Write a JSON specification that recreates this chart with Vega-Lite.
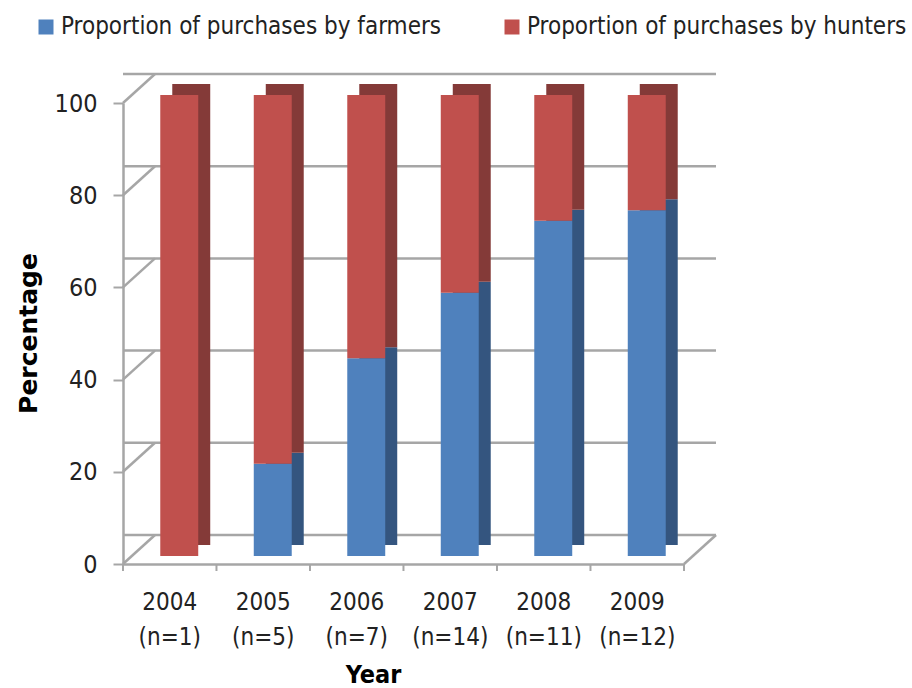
{
  "$schema": "https://vega.github.io/schema/vega-lite/v6.json",
  "width": 561,
  "height": 461,
  "autosize": {"type": "none"},
  "padding": {"left": 123, "top": 103, "right": 228, "bottom": 124},
  "background": "white",
  "config": {
    "view": {"stroke": null},
    "font": "DejaVu Sans Condensed, DejaVu Sans, sans-serif"
  },
  "datasets": {
    "bars": [
      {"year": "2004 (n=1)", "group": "Proportion of purchases by farmers", "value": 0},
      {"year": "2004 (n=1)", "group": "Proportion of purchases by hunters", "value": 100},
      {"year": "2005 (n=5)", "group": "Proportion of purchases by farmers", "value": 20},
      {"year": "2005 (n=5)", "group": "Proportion of purchases by hunters", "value": 80},
      {"year": "2006 (n=7)", "group": "Proportion of purchases by farmers", "value": 42.9},
      {"year": "2006 (n=7)", "group": "Proportion of purchases by hunters", "value": 57.1},
      {"year": "2007 (n=14)", "group": "Proportion of purchases by farmers", "value": 57.1},
      {"year": "2007 (n=14)", "group": "Proportion of purchases by hunters", "value": 42.9},
      {"year": "2008 (n=11)", "group": "Proportion of purchases by farmers", "value": 72.7},
      {"year": "2008 (n=11)", "group": "Proportion of purchases by hunters", "value": 27.3},
      {"year": "2009 (n=12)", "group": "Proportion of purchases by farmers", "value": 75},
      {"year": "2009 (n=12)", "group": "Proportion of purchases by hunters", "value": 25}
    ],
    "years": [
      {"year": "2004 (n=1)"}, {"year": "2005 (n=5)"}, {"year": "2006 (n=7)"},
      {"year": "2007 (n=14)"}, {"year": "2008 (n=11)"}, {"year": "2009 (n=12)"}
    ],
    "grid": [
      {"value": 0}, {"value": 20}, {"value": 40}, {"value": 60}, {"value": 80}, {"value": 100}
    ],
    "floor": [{"value": 0}]
  },
  "layer": [
    {
      "data": {"name": "grid"},
      "mark": {"type": "rule", "xOffset": 32, "yOffset": -29, "stroke": "#A6A6A6", "strokeWidth": 2.5},
      "encoding": {
        "y": {"field": "value", "type": "quantitative", "scale": {"domain": [0, 100], "nice": false, "zero": true}, "title": "Percentage"}
      }
    },
    {
      "data": {"name": "grid"},
      "mark": {"type": "rule", "xOffset": -27.8, "x2Offset": 4.2, "y2Offset": -29, "stroke": "#A6A6A6", "strokeWidth": 2.5},
      "encoding": {
        "x": {"datum": "2004 (n=1)", "bandPosition": 0, "type": "nominal"},
        "x2": {"datum": "2004 (n=1)", "bandPosition": 0},
        "y": {"field": "value", "type": "quantitative", "title": "Percentage"},
        "y2": {"field": "value"}
      }
    },
    {
      "data": {"name": "floor"},
      "mark": {"type": "rule", "xOffset": 27.8, "x2Offset": 59.8, "y2Offset": -29, "stroke": "#A6A6A6", "strokeWidth": 2.5},
      "encoding": {
        "x": {"datum": "2009 (n=12)", "bandPosition": 1, "type": "nominal"},
        "x2": {"datum": "2009 (n=12)", "bandPosition": 1},
        "y": {"field": "value", "type": "quantitative", "title": "Percentage"},
        "y2": {"field": "value"}
      }
    },
    {
      "data": {"name": "years"},
      "mark": {"type": "rule", "xOffset": -27.8, "x2Offset": -27.8, "y2Offset": 7, "stroke": "#A6A6A6", "strokeWidth": 2},
      "encoding": {
        "x": {"field": "year", "type": "nominal", "bandPosition": 0},
        "x2": {"field": "year", "bandPosition": 0},
        "y": {"datum": 0, "type": "quantitative"},
        "y2": {"datum": 0}
      }
    },
    {
      "data": {"name": "floor"},
      "mark": {"type": "rule", "xOffset": 27.8, "x2Offset": 27.8, "y2Offset": 7, "stroke": "#A6A6A6", "strokeWidth": 2},
      "encoding": {
        "x": {"datum": "2009 (n=12)", "bandPosition": 1, "type": "nominal"},
        "x2": {"datum": "2009 (n=12)", "bandPosition": 1},
        "y": {"field": "value", "type": "quantitative", "title": "Percentage"},
        "y2": {"field": "value"}
      }
    },
    {
      "data": {"name": "bars"},
      "mark": {"type": "bar", "xOffset": 21.5, "yOffset": -19},
      "encoding": {
        "x": {
          "field": "year", "type": "nominal", "sort": null, "title": "Year",
          "scale": {
            "domain": ["2004 (n=1)", "2005 (n=5)", "2006 (n=7)", "2007 (n=14)", "2008 (n=11)", "2009 (n=12)"],
            "paddingInner": 0.594, "paddingOuter": 0.297
          }
        },
        "y": {"field": "value", "type": "quantitative", "stack": "zero", "title": "Percentage"},
        "detail": {"field": "group"},
        "order": {"field": "group", "sort": "ascending"},
        "fill": {
          "condition": {"test": "datum.group === 'Proportion of purchases by farmers'", "value": "#34557F"},
          "value": "#843A38"
        }
      }
    },
    {
      "data": {"name": "bars"},
      "mark": {"type": "bar", "xOffset": 9.5, "yOffset": -8},
      "encoding": {
        "x": {
          "field": "year", "type": "nominal", "sort": null, "title": "Year",
          "axis": {
            "labelAngle": 0,
            "labelAlign": "center",
            "labelExpr": "split(datum.label, ' ')",
            "labelFontSize": 24,
            "labelColor": "#222222",
            "labelLineHeight": 35,
            "labelBaseline": "top",
            "labelPadding": 26,
            "ticks": false,
            "domainColor": "#A6A6A6",
            "domainWidth": 2.5,
            "titleFontSize": 25,
            "titleFontWeight": "bold",
            "titleColor": "#000000",
            "titleX": 250,
            "titleY": 98,
            "titleBaseline": "top"
          }
        },
        "y": {
          "field": "value", "type": "quantitative", "stack": "zero", "title": "Percentage",
          "axis": {
            "values": [0, 20, 40, 60, 80, 100],
            "grid": false,
            "labelFontSize": 25,
            "labelColor": "#222222",
            "labelPadding": 16,
            "tickSize": 10,
            "tickColor": "#A6A6A6",
            "tickWidth": 2,
            "domainColor": "#A6A6A6",
            "domainWidth": 2.5,
            "titleFont": "DejaVu Sans",
            "titleFontSize": 25,
            "titleFontWeight": "bold",
            "titleColor": "#000000",
            "titleAngle": -90,
            "titleX": -95,
            "titleY": 230,
            "titleBaseline": "middle",
            "titleAlign": "center"
          }
        },
        "order": {"field": "group", "sort": "ascending"},
        "color": {
          "field": "group", "type": "nominal",
          "scale": {"domain": ["Proportion of purchases by farmers", "Proportion of purchases by hunters"], "range": ["#4F81BD", "#C0504D"]},
          "legend": {
            "title": null,
            "orient": "none",
            "direction": "horizontal",
            "columns": 2,
            "legendX": -89,
            "legendY": -88,
            "padding": 0,
            "symbolType": "square",
            "symbolSize": 225,
            "symbolStrokeWidth": 0,
            "labelFontSize": 24,
            "labelColor": "#222222",
            "labelOffset": 3,
            "labelLimit": 600,
            "columnPadding": 58
          }
        }
      }
    }
  ]
}
